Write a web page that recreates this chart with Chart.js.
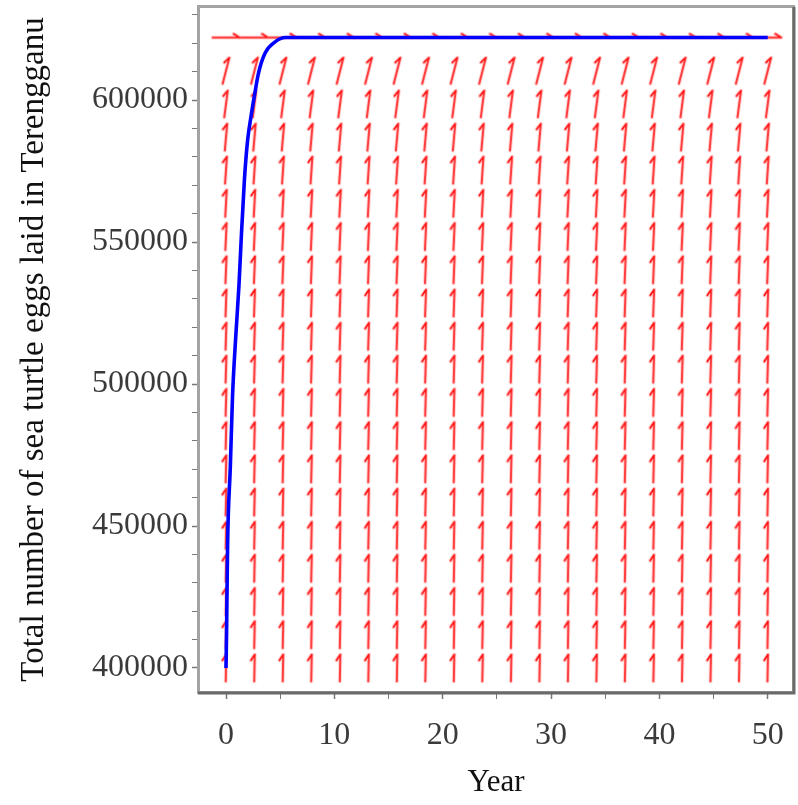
<!DOCTYPE html>
<html>
<head>
<meta charset="utf-8">
<script src="https://cdn.jsdelivr.net/npm/chart.js@4.4.0/dist/chart.umd.min.js"></script>
<style>
  html, body { margin: 0; padding: 0; background: #fff; }
  #wrap { width: 798px; height: 805px; }
</style>
</head>
<body>
<div id="wrap"><canvas id="chart-field" width="798" height="805"></canvas></div>
<script>
/* Campo de direcciones + solución */

var arrowYears = [0, 2.63, 5.26, 7.89, 10.53, 13.16, 15.79, 18.42, 21.05, 23.68,
                  26.32, 28.95, 31.58, 34.21, 36.84, 39.47, 42.11, 44.74, 47.37, 50];
var arrowEggs = [400000, 411700, 423400, 435100, 446700, 458400, 470100, 481800, 493500, 505200,
                 516800, 528500, 540200, 551900, 563600, 575300, 586900, 598600, 610300, 622000];
var arrowSlope = [185600, 181000, 175700, 170000, 163700, 156700, 149200, 141200, 132500, 123300,
                  113600, 103300, 92400, 80900, 68800, 56200, 43100, 29300, 14900, 0];

// curva azul
var curveYears = [0, 0.05, 0.15, 0.4, 0.6, 0.9, 1.2, 1.4, 1.7, 2.0, 2.3, 2.6, 3.0, 3.6, 4.5, 5.5, 6.5, 50];
var curveEggs = [400000, 412000, 444000, 471000, 495500, 516700, 535000, 550800, 572000, 586000,
                 594000, 601000, 609500, 616500, 620400, 622000, 622000, 622000];

// marcas y etiquetas de los ejes
var xTicks = [0, 5, 10, 15, 20, 25, 30, 35, 40, 45, 50];
var xLabelled = [0, 10, 20, 30, 40, 50];
var yTicks = [400000, 410000, 420000, 430000, 440000, 450000, 460000, 470000, 480000, 490000,
              500000, 510000, 520000, 530000, 540000, 550000, 560000, 570000, 580000, 590000,
              600000, 610000, 620000, 630000];
var yLabelled = [400000, 450000, 500000, 550000, 600000];

var fieldPoints = [];
arrowEggs.forEach((p, i) => {
  arrowYears.forEach(t => {
    fieldPoints.push({x: t, y: p, s: arrowSlope[i]});
  });
});

var curvePoints = curveYears.map((t, i) => ({x: t, y: curveEggs[i]}));

// flecha (media punta) dibujada en un canvas, apuntando a la derecha
var arrowImg = document.createElement('canvas');
arrowImg.width = 32;
arrowImg.height = 12;
(function(){
  var c = arrowImg.getContext('2d');
  c.lineCap = 'round';
  function trazo(color, ancho) {
    c.strokeStyle = color;
    c.lineWidth = ancho;
    c.beginPath();
    c.moveTo(2.5, 6);
    c.lineTo(29.5, 6);
    c.moveTo(29.5, 6);
    c.lineTo(23.5, 2.3);
    c.stroke();
  }
  trazo('rgba(255,90,90,0.35)', 3.6);
  trazo('rgba(255,0,0,0.9)', 1.6);
})();

function arrowAngle(ctx) {
  var raw = ctx.raw;
  if (!raw) return 0;
  var xs = ctx.chart.scales.x, ys = ctx.chart.scales.y;
  var dx = xs.getPixelForValue(raw.x + 1) - xs.getPixelForValue(raw.x);
  var dy = ys.getPixelForValue(raw.y + raw.s) - ys.getPixelForValue(raw.y);
  return Math.atan2(dy, dx) * 180 / Math.PI;
}

// marco gris alrededor del área
var framePlugin = {
  id: 'frame',
  afterDraw(chart) {
    var c = chart.ctx, a = chart.chartArea;
    c.save();
    c.strokeStyle = '#a3a3a3';
    c.lineWidth = 3;
    c.strokeRect(a.left - 1.5, a.top - 1.5, a.right - a.left + 3, a.bottom - a.top + 3);
    c.strokeStyle = '#6a6a6a';
    c.lineWidth = 3;
    c.beginPath();
    c.moveTo(a.right + 2, a.top - 1);
    c.lineTo(a.right + 2, a.bottom + 2);
    c.lineTo(a.left - 2, a.bottom + 2);
    c.stroke();
    c.restore();
  }
};

var serif = "'Liberation Serif', 'Times New Roman', serif";

var ctx = document.getElementById('chart-field').getContext('2d');
new Chart(ctx, {
  type: 'scatter',
  data: {
    datasets: [{
      label: 'Solución',
      data: curvePoints,
      showLine: true,
      borderColor: '#0000ff',
      borderWidth: 3.6,
      pointRadius: 0,
      cubicInterpolationMode: 'monotone',
      order: 0
    }, {
      label: 'Campo',
      data: fieldPoints,
      pointStyle: arrowImg,
      pointRadius: 14,
      rotation: arrowAngle,
      order: 1
    }]
  },
  options: {
    responsive: false,
    animation: false,
    events: [],
    layout: { autoPadding: false, padding: { left: 0, top: 8, right: 6, bottom: 0 } },
    plugins: {
      legend: { display: false },
      tooltip: { enabled: false }
    },
    scales: {
      x: {
        type: 'linear',
        min: -2.4,
        max: 52.24,
        border: { display: false },
        grid: {
          drawOnChartArea: false,
          drawTicks: true,
          tickLength: 8,
          tickColor: '#777',
          tickWidth: (c) => xLabelled.includes(c.tick && c.tick.value) ? 1.5 : 1
        },
        afterBuildTicks: (s) => { s.ticks = xTicks.map(v => ({value: v})); },
        ticks: {
          autoSkip: false,
          maxRotation: 0,
          padding: 17,
          color: '#3a3a3a',
          font: { family: serif, size: 32 },
          callback: (v) => xLabelled.includes(v) ? String(v) : ''
        },
        title: {
          display: true,
          text: 'Year',
          color: '#111',
          font: { family: serif, size: 31 },
          padding: { top: 0, bottom: 4 }
        },
        afterFit: (s) => { s.height = 114; s.paddingLeft = 0; s.paddingRight = 0; }
      },
      y: {
        type: 'linear',
        min: 391900,
        max: 632400,
        border: { display: false },
        grid: {
          drawOnChartArea: false,
          drawTicks: true,
          tickLength: 8,
          tickColor: '#777',
          tickWidth: (c) => yLabelled.includes(c.tick && c.tick.value) ? 1.5 : 1
        },
        afterBuildTicks: (s) => { s.ticks = yTicks.map(v => ({value: v})); },
        ticks: {
          autoSkip: false,
          padding: 4,
          color: '#3a3a3a',
          font: { family: serif, size: 32 },
          callback: (v) => yLabelled.includes(v) ? String(v) : ''
        },
        title: {
          display: true,
          text: 'Total number of sea turtle eggs laid in Terengganu',
          color: '#111',
          font: { family: serif, size: 33 },
          padding: { top: 15, bottom: 0 }
        },
        afterFit: (s) => { s.width = 200; s.paddingTop = 0; s.paddingBottom = 0; }
      }
    }
  },
  plugins: [framePlugin]
});
</script>
</body>
</html>
